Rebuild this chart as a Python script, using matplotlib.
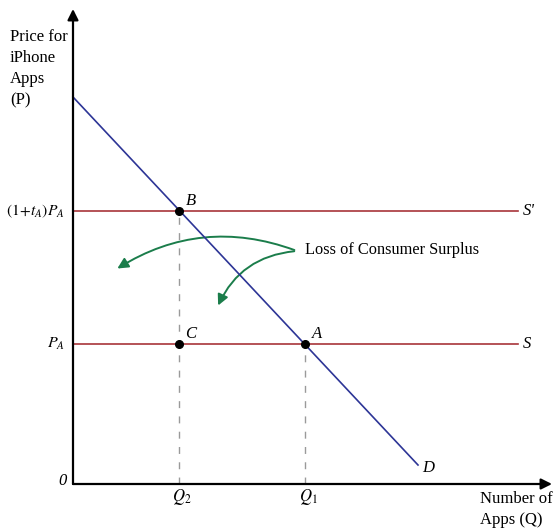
import matplotlib.pyplot as plt
from matplotlib.patches import FancyArrowPatch

plt.rcParams['font.family'] = ['Liberation Serif', 'DejaVu Serif']
plt.rcParams['mathtext.fontset'] = 'stix'

# Market for iPhone apps (Q in apps, P in price units)
demand_q = [0.0, 34.5]
demand_p = [38.7, 1.9]
price_a = 14.0            # P_A, untaxed supply price
price_taxed = 27.3        # (1+t_A)P_A
q1 = 23.2                 # equilibrium before tax
q2 = 10.6                 # equilibrium after tax
supply_end = 44.5
points = {'A': (q1, price_a), 'B': (q2, price_taxed), 'C': (q2, price_a)}

fig = plt.figure(figsize=(5.53, 5.28), dpi=100)
ax = fig.add_axes([0, 0, 1, 1])
ax.set_xlim(-7.3, 48.0)
ax.set_ylim(-4.4, 48.4)
ax.axis('off')

# axes with arrow heads
ax.annotate('', xy=(47.9, 0), xytext=(0, 0),
            arrowprops=dict(arrowstyle='-|>', color='black', lw=1.6, mutation_scale=16,
                            shrinkA=0, shrinkB=0))
ax.annotate('', xy=(0, 47.5), xytext=(0, 0),
            arrowprops=dict(arrowstyle='-|>', color='black', lw=1.6, mutation_scale=16,
                            shrinkA=0, shrinkB=0))

# demand and supply curves
ax.plot(demand_q, demand_p, color='#2d3596', lw=1.2)
ax.plot([0, supply_end], [price_taxed, price_taxed], color='#a8353a', lw=1.2)
ax.plot([0, supply_end], [price_a, price_a], color='#a8353a', lw=1.2)

# dashed drop lines to the quantity axis
ax.plot([q2, q2], [0, price_taxed], color='#9a9a9a', lw=1.0, ls=(0, (5, 6)), zorder=1)
ax.plot([q1, q1], [0, price_a], color='#9a9a9a', lw=1.0, ls=(0, (5, 6)), zorder=1)

for name, (x, y) in points.items():
    ax.plot(x, y, 'o', color='black', markersize=5.5, zorder=5)
    ax.text(x + 0.65, y + 1.0, name, fontsize=12, style='italic', ha='left', va='center')

# curve labels
ax.text(45.0, price_taxed, "S'", fontsize=12, style='italic', ha='left', va='center')
ax.text(45.0, price_a, 'S', fontsize=12, style='italic', ha='left', va='center')
ax.text(demand_q[1] + 0.4, demand_p[1] - 0.3, 'D', fontsize=12, style='italic',
        ha='left', va='center')

# price axis labels
ax.text(-0.8, price_taxed, r'$(\mathit{1}\!+\!t_A)P_A$', fontsize=11.2, ha='right', va='center')
ax.text(-0.8, price_a, '$P_A$', fontsize=11.5, ha='right', va='center')
ax.text(-0.6, 0.3, '0', fontsize=12, style='italic', ha='right', va='center')

# quantity axis labels
ax.text(q2 + 0.3, -0.3, r'$Q_\mathit{2}$', fontsize=12, ha='center', va='top')
ax.text(q1 + 0.3, -0.3, r'$Q_\mathit{1}$', fontsize=12, ha='center', va='top')

ax.text(-6.3, 45.5, 'Price for\niPhone\nApps\n(P)', fontsize=12, ha='left', va='top',
        linespacing=1.42)
ax.text(40.7, -0.7, 'Number of\nApps (Q)', fontsize=12, ha='left', va='top',
        linespacing=1.38)

# consumer surplus callout
ax.text(23.2, 23.4, 'Loss of Consumer Surplus', fontsize=11.8, ha='left', va='center')
green = '#1b7d4b'
arc1 = FancyArrowPatch((22.4, 23.3), (4.2, 21.4), connectionstyle='arc3,rad=0.25',
                       arrowstyle='-|>', mutation_scale=16, color=green, lw=1.4)
arc2 = FancyArrowPatch((22.4, 23.3), (14.4, 17.6), connectionstyle='arc3,rad=0.3',
                       arrowstyle='-|>', mutation_scale=16, color=green, lw=1.4)
ax.add_patch(arc1)
ax.add_patch(arc2)

fig.savefig('out.png', dpi=100)
